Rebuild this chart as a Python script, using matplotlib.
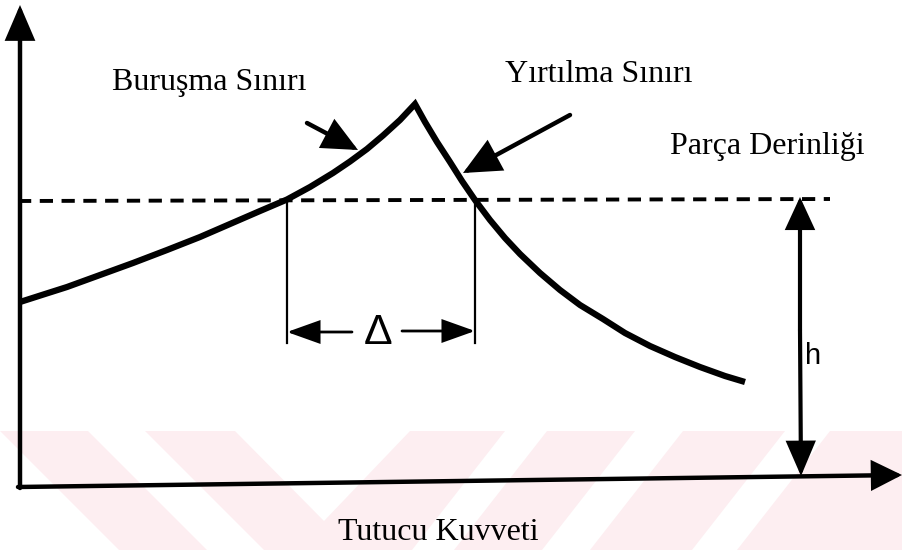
import numpy as np
import matplotlib
matplotlib.use('Agg')
import matplotlib.pyplot as plt
from matplotlib.patches import Polygon

# diagram geometry, in picture units (x right, y down)
left_x = [20, 45, 67, 100, 133, 167, 200, 230, 260, 287, 310, 333, 350, 367, 383, 400, 415]
left_y = [302, 294, 287, 275, 263, 250, 237, 224, 211, 199.5, 187, 173, 161.5, 149, 135.5, 120, 104]
right_x = [415, 425, 437, 450, 462, 475, 490, 505, 520, 540, 560, 580, 603, 625, 650, 675, 700, 725, 745]
right_y = [104, 122, 142, 162, 181, 200, 220, 238, 254, 273, 290, 305, 319, 333, 346, 357, 367, 376, 382]

depth_y = 201
depth_x = [18, 830]
delta_x = [287, 475]
h_x = 800

labels = ['Buruşma Sınırı', 'Yırtılma Sınırı', 'Parça Derinliği', 'Tutucu Kuvveti']
label_pos = [(112, 90), (505, 82), (670, 154), (338, 540)]

pink = '#fdeef1'
serif = 'Liberation Serif'
px = 0.72  # px -> pt at dpi 100

fig = plt.figure(figsize=(9.02, 5.5), dpi=100)
ax = fig.add_axes([0, 0, 1, 1])
ax.set_xlim(0, 902)
ax.set_ylim(550, 0)
ax.axis('off')

# faint watermark band at the bottom
ax.add_patch(Polygon([(0, 431), (902, 431), (902, 550), (0, 550)], color=pink, lw=0, zorder=0))
white_bits = [
    [(0, 431), (0, 550), (119, 550)],
    [(88, 431), (145, 431), (264, 550), (207, 550)],
    [(235, 431), (410, 431), (324, 521)],
    [(505, 431), (547, 431), (454, 550), (412, 550)],
    [(635, 431), (683, 431), (590, 550), (542, 550)],
    [(785, 431), (830, 431), (737, 550), (692, 550)],
]
for p in white_bits:
    ax.add_patch(Polygon(p, color='white', lw=0, zorder=0))


def arrow(start, tip, lw, hl, hw):
    ax.annotate('', xy=tip, xytext=start,
                arrowprops=dict(arrowstyle='-|>,head_length=%g,head_width=%g' % (hl * px, hw * px / 2),
                                lw=lw, color='black', shrinkA=0, shrinkB=0,
                                mutation_scale=1, joinstyle='miter'))


# axes
arrow((20, 488), (20, 5), 3.2, 28, 24)
arrow((18, 487), (902, 475), 3.2, 24, 24)

# curve
ax.plot(left_x + right_x[1:], left_y + right_y[1:], color='black', lw=4.5,
        solid_joinstyle='miter', solid_capstyle='butt')

# part depth line
ax.plot(depth_x, [depth_y, depth_y - 2], color='black', lw=2.8,
        linestyle=(0, (3.4, 2.2)))

# delta bracket
for x in delta_x:
    ax.plot([x, x], [depth_y, 343], color='black', lw=1.6)
arrow((352, 332), (287, 332), 2.0, 28, 20)
arrow((402, 331), (475, 331), 2.0, 28, 20)
ax.text(378, 333, 'Δ', fontsize=31, family='Liberation Sans', ha='center', va='center')

# h arrow
arrow((h_x, 330), (h_x, 197), 3.0, 26, 24)
arrow((h_x, 330), (h_x + 1, 476), 3.0, 28, 24)
ax.text(805, 364, 'h', fontsize=21, family='Liberation Sans', ha='left', va='baseline')

# pointer arrows
arrow((307, 123), (358, 150), 3.2, 28, 26)
arrow((570, 115), (463, 173), 3.2, 30, 28)

for txt, (x, y) in zip(labels, label_pos):
    ax.text(x, y, txt, fontsize=23, family=serif, ha='left', va='baseline')

plt.savefig('out.png', dpi=100)
